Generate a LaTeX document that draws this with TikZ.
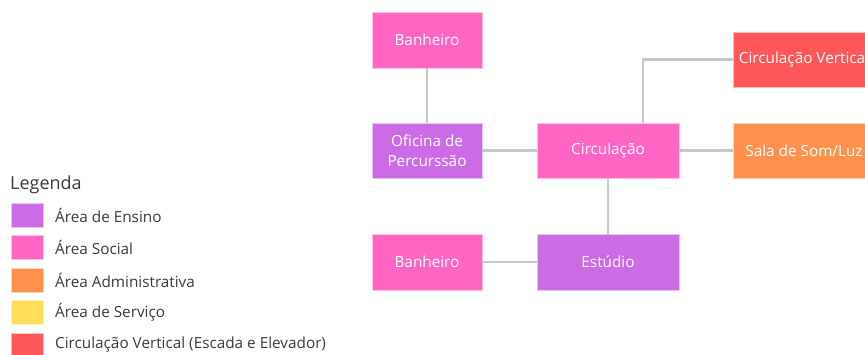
\documentclass[tikz,border=0pt]{standalone}
\usepackage{fontspec}
\setmainfont{Open Sans}
\usetikzlibrary{calc}
\definecolor{ensino}{HTML}{CB6CE6}
\definecolor{social}{HTML}{FF66C4}
\definecolor{admin}{HTML}{FF914D}
\definecolor{servico}{HTML}{FFDE59}
\definecolor{circv}{HTML}{FF5757}
\definecolor{linkc}{HTML}{C3CACF}
\definecolor{legtxt}{HTML}{3A3A3A}
\tikzset{
  room/.style={draw=white!60!#1, line width=0.6pt, fill=#1, text=white, inner sep=0pt, align=center,
    font=\fontsize{15.3}{20.5}\selectfont},
  link/.style={draw=linkc, line width=2.4pt},
  legsq/.style={draw=white!60!#1, line width=0.6pt, fill=#1, minimum width=32pt, minimum height=24pt, inner sep=0pt},
  legtext/.style={anchor=west, text=legtxt, inner sep=0pt, font=\fontsize{15.3}{18}\selectfont},
}
\begin{document}
\begin{tikzpicture}[x=1pt,y=-1pt]
\useasboundingbox (0,0) rectangle (865,354);
\begin{scope}
\clip (0,0) rectangle (865,354);
% rooms
\node[room=social, minimum width=110pt, minimum height=56pt] (ban1) at (427,40) {Banheiro};
\node[room=ensino, minimum width=110pt, minimum height=55pt] (ofi) at (427,150.5) {Oficina de\\Percurssão};
\node[room=social, minimum width=142pt, minimum height=55pt] (circ) at (608,150.5) {Circulação};
\node[room=circv, minimum width=142pt, minimum height=55pt] (cv) at (804,59.5) {Circulação Vertical};
\node[room=admin, minimum width=142pt, minimum height=55pt] (sala) at (804,150.5) {Sala de Som/Luz};
\node[room=social, minimum width=110pt, minimum height=56pt] (ban2) at (427,262) {Banheiro};
\node[room=ensino, minimum width=142pt, minimum height=56pt] (est) at (608,262) {Estúdio};
% links
\draw[link] (ban1.south) -- (ofi.north);
\draw[link] (ofi.east) -- (circ.west);
\draw[link] (circ.east) -- (sala.west);
\draw[link] (circ.south) -- (est.north);
\draw[link] (ban2.east) -- (est.west);
\coordinate (cvup) at ($(circ.north)+(35,0)$);
\draw[link] (cvup) |- (cv.west);
% legend
\node[anchor=west, text=legtxt, inner sep=0pt, font=\fontsize{18}{21}\selectfont] (leg) at (10,185) {Legenda};
\node[legsq=ensino] (l1) at (27,215) {};
\node[legsq=social] (l2) at (27,247) {};
\node[legsq=admin] (l3) at (27,280) {};
\node[legsq=servico] (l4) at (27,312) {};
\node[legsq=circv] (l5) at (27,345) {};
\node[legtext] (t1) at (55,215) {Área de Ensino};
\node[legtext] (t2) at (55,247) {Área Social};
\node[legtext] (t3) at (55,280) {Área Administrativa};
\node[legtext] (t4) at (55,312) {Área de Serviço};
\node[legtext] (t5) at (55,345) {Circulação Vertical (Escada e Elevador)};
\end{scope}
\end{tikzpicture}
\end{document}
